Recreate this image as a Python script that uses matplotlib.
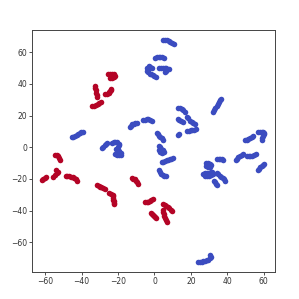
import matplotlib
matplotlib.use('Agg')
import matplotlib.pyplot as plt

# t-SNE embedding (two classes)
red_pts = [
    (-25.5, 46), (-24.5, 46.3), (-23.5, 46.3), (-22.5, 46), (-21.5, 45.2), (-22.5, 44.3), (-23.5, 43.8), (-24.5, 43.5),
    (-32.7, 39), (-32.4, 37.5), (-32.2, 36), (-32, 34.5), (-31.8, 33), (-31.5, 31.5),
    (-23.8, 37), (-24, 36.2), (-24.3, 35.5), (-24.8, 34.7), (-25.2, 34), (-26.2, 33.7), (-27, 33.6),
    (-34.3, 25.8), (-33.3, 26.4), (-32.3, 27), (-31.2, 27.6), (-30.2, 28.2), (-29.3, 28.8),
    (-54.7, -5), (-53.7, -5.2), (-53, -5.8), (-52.4, -6.8), (-51.8, -7.8),
    (-62, -20.5), (-61.2, -19.8), (-60.3, -19.3), (-59.3, -18.7),
    (-54, -14.5), (-53.2, -15.5), (-53.6, -16.5), (-54.5, -17.5), (-55.5, -18.5),
    (-48.8, -18.2), (-47.8, -18.3), (-46.8, -18.4), (-45.8, -18.6), (-44.8, -18.8),
    (-44, -19.3), (-43.3, -20.3), (-42.5, -21.2),
    (-31.5, -24), (-30.7, -24.6), (-30, -25), (-29.2, -25.3), (-28.3, -25.7), (-27.3, -26.4),
    (-25, -29), (-24, -29.3), (-23, -30), (-22.6, -31), (-22.8, -32.2), (-23, -33.2),
    (-22.5, -34.2), (-22.2, -35.2), (-22, -36),
    (-12.5, -19.5), (-11.6, -19.8), (-10.8, -20.3), (-10.2, -21.3), (-9.6, -22.2), (-9, -23),
    (-5.2, -34.5), (-4.3, -34.6), (-3.4, -34.4), (-2.5, -33.9), (-1.8, -33.2), (-1, -32.5),
    (-2, -41.5), (-1.4, -42), (-0.8, -42.6), (-0.2, -43.3), (0.3, -44.2), (0.8, -45),
    (4.8, -36), (5.6, -36.5), (6.5, -37.2), (7.3, -37.8), (8.1, -38.6), (9, -39.5), (9.8, -40.5),
    (4.5, -39.7), (4.7, -40.8), (5, -42), (5.4, -43.2), (5.8, -44.5), (6.2, -45.8), (6.7, -47.3),
]
blue_pts = [
    (4.8, 68), (5.8, 67.8), (6.8, 67.5), (7.8, 67.1), (8.8, 66.6), (9.8, 65.8), (10.8, 65),
    (0.3, 56.6), (1.3, 56.9), (2.3, 57), (3.3, 57), (4.3, 56.8), (5.2, 56.5),
    (-4, 50.2), (-3.2, 51.2), (-2.3, 51), (-1.5, 50.3), (-3.8, 49.2), (-4, 48),
    (-3.5, 47.3), (-2.7, 46.6), (-1.9, 46), (-1, 45.5), (0, 44.9), (1, 44.4),
    (2.6, 50), (3.6, 49.9), (4.6, 49.8), (5.6, 49.8), (6.6, 49.8), (7.8, 49.5), (6.6, 48.5), (5.8, 47.7),
    (32.3, 22.6), (32.9, 23.8), (33.5, 25), (34.1, 26.2), (34.7, 27.4), (35.3, 28.5), (36, 29.6), (36.7, 30.5),
    (13.1, 24.7), (14, 24.6), (14.9, 24.1), (15.8, 23.3), (16.6, 22.5),
    (12.8, 17.8), (13.7, 17.3), (14.8, 16.6), (15.4, 16),
    (17.7, 19), (18.2, 18.5),
    (19.5, 16.8), (20.4, 16.2), (21.4, 15.5), (22.3, 14.8),
    (17.8, 10.1), (18.8, 10.4), (19.8, 10.7), (20.8, 10.9), (21.8, 11.1), (22.8, 11.3),
    (12.8, 7.6), (13.5, 8.1),
    (-6.2, 17.2), (-5.3, 17.5), (-4.3, 17.6), (-3.3, 17.6), (-2.3, 17.3), (-1.3, 16.9),
    (-13.5, 13), (-12.9, 13.7), (-12.2, 14.4), (-11.4, 15), (-10.5, 15.4), (-9.8, 15.6),
    (-45.5, 6.3), (-44.6, 6.8), (-43.7, 7.3), (-42.8, 7.9), (-41.9, 8.5), (-41, 9.1), (-40.1, 9.6), (-39.4, 9.9),
    (-28.9, -0.4), (-28.2, 0.4), (-27.4, 1.2), (-26.6, 2), (-25.8, 2.8),
    (-23.5, 3), (-22.5, 3.4), (-21.5, 3.5), (-20.4, 3.2), (-19.3, 2.3), (-19.3, 1.2), (-20.3, 0.3),
    (-21, -0.8), (-20.5, -1.8), (-19.3, -2.5), (-18.3, -3.5), (-18.3, -4.6), (-19.3, -5), (-20.5, -4.9), (-21.7, -4.5),
    (1.2, 8.9), (1.8, 8.1), (2.5, 7.3), (3.2, 6.5), (3.9, 5.7), (4.7, 4.9),
    (2.3, 1), (3.1, 0), (3.8, -0.8), (4.5, -1.7), (5.2, -2.7), (4.4, -3.5), (3.3, -3), (2.6, -2),
    (4, -9.2), (4.9, -9), (5.8, -8.7), (6.7, -8.3), (7.6, -7.9), (8.5, -7.5), (9.3, -7.1), (10, -6.7),
    (2.7, -14.6), (3.1, -15.6), (3.7, -16.6), (4.5, -17.4), (5.4, -18), (6.2, -18.2),
    (28.4, -10), (29.4, -9.9), (30.5, -10.3), (31.2, -11.3), (30.6, -12.4), (29.4, -12.6), (28.5, -12.1),
    (34.3, -7.3), (35.2, -7.2), (36.2, -7.3), (37, -7.7), (37.7, -8.3),
    (26.8, -16.6), (27.8, -16.4), (28.8, -16.2), (29.8, -16), (30.8, -15.8), (31.7, -15.7),
    (32.1, -16.7), (31.2, -17.6), (30.1, -18.1), (29, -18.2), (27.9, -17.9),
    (34.2, -16.5), (35, -17.2), (35.8, -17.9), (36.6, -18.6), (37.4, -19.4), (38.2, -20.3), (39, -21.3),
    (32.8, -21.3), (33.3, -22.2), (33.9, -23.1), (34.6, -23.9),
    (44.8, -8.3), (45.4, -7.4), (46.1, -6.4), (46.9, -5.5), (47.8, -4.7), (48.6, -4.1),
    (50.8, -5.4), (51.7, -5.6), (52.7, -5.6), (53.7, -5.3), (54.6, -4.8), (55.6, -4.2),
    (57.1, -14.6), (57.6, -13.6), (58.2, -12.6), (58.9, -11.7), (59.6, -10.9), (60.3, -10.3),
    (49.7, 4.3), (50.6, 4.8), (51.5, 5.3), (52.4, 5.9), (53.3, 6.5), (54.2, 7.1),
    (57, 9.5), (57.9, 9.8), (58.8, 9.9), (59.8, 9.9), (60.4, 9.3), (60.1, 8.2), (59.7, 7.1), (59.3, 6), (58.9, 4.8),
    (24.1, -72.3), (25, -72.4), (25.9, -72.3), (26.8, -72.1), (27.7, -71.8), (28.6, -71.5),
    (29.5, -71), (30.3, -70.3), (31, -69.4), (30.6, -68.4),
]

plt.rcParams['font.size'] = 5.5

fig = plt.figure(figsize=(2.99, 2.99), dpi=100)
ax = fig.add_axes([0.108, 0.090, 0.813, 0.809])

ax.scatter([p[0] for p in blue_pts], [p[1] for p in blue_pts], s=16, color='#3b4cc0', lw=0)
ax.scatter([p[0] for p in red_pts], [p[1] for p in red_pts], s=16, color='#b40426', lw=0)

ax.set_xlim(-67.1, 66.4)
ax.set_ylim(-78.9, 74)
ax.set_xticks([-60, -40, -20, 0, 20, 40, 60])
ax.set_yticks([-60, -40, -20, 0, 20, 40, 60])
ax.tick_params(length=2.2, width=0.6, pad=1.5, colors='#333333')
for sp in ax.spines.values():
    sp.set_linewidth(0.7)
    sp.set_color('#444444')

fig.savefig('out.png', dpi=100)
